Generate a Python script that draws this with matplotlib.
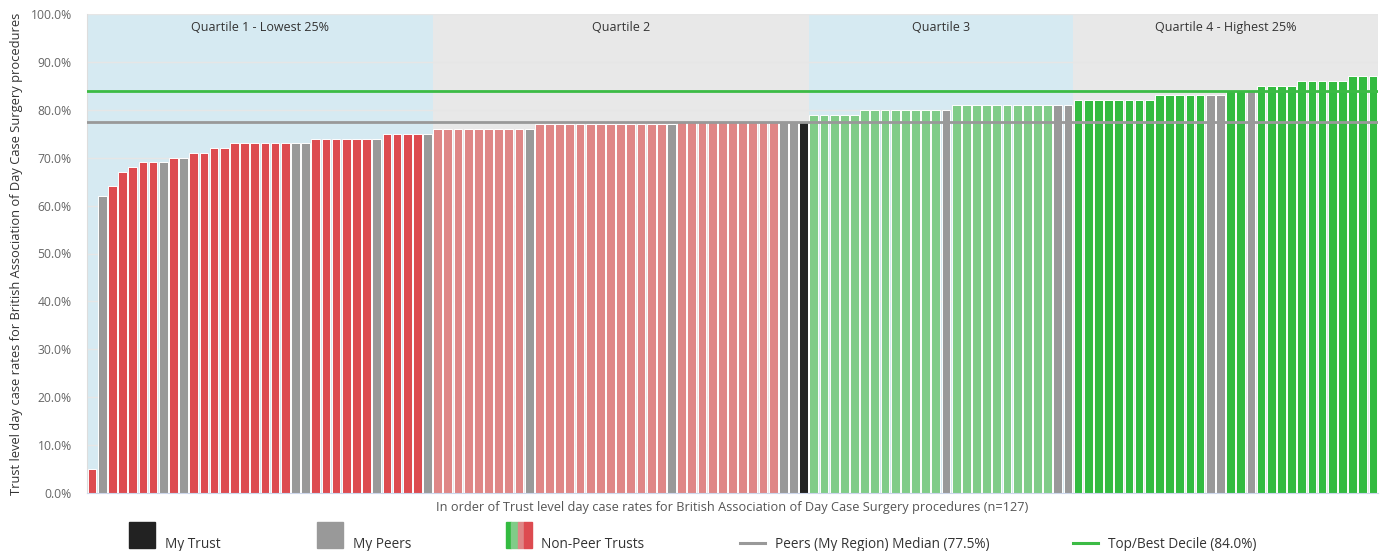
import matplotlib
matplotlib.use('Agg')
import matplotlib.pyplot as plt
from matplotlib.patches import Rectangle
from matplotlib.lines import Line2D
import numpy as np

plt.rcParams['font.family'] = ['Open Sans', 'DejaVu Sans']

# ---------------- data ----------------
values = (
    [5, 62, 64, 67, 68, 69, 69, 69, 70, 70, 71, 71, 72, 72,
     73, 73, 73, 73, 73, 73, 73, 73,
     74, 74, 74, 74, 74, 74, 74,
     75, 75, 75, 75, 75]
    + [76] * 10 + [77] * 14 + [77.5] * 13
    + [79] * 5 + [80] * 9 + [81] * 12
    + [82] * 8 + [83] * 7 + [84] * 3 + [85] * 4 + [86] * 5 + [87] * 3
)
# N = non-peer trust, P = my peers, T = my trust
kinds = (
    list("NPNNNNNPNPNNNNNNNNNNPPNNNNNNPNNNNP")
    + list("NNNNNNNNNP") + list("NNNNNNNNNNNNNP") + list("NNNNNNNNNNPPT")
    + list("NNNNN") + list("NNNNNNNNP") + list("NNNNNNNNNNPP")
    + list("NNNNNNNN") + list("NNNNNPP") + list("NNP") + list("NNNN")
    + list("NNNNN") + list("NNN")
)
quartile_sizes = [34, 37, 26, 30]
quartile_labels = ["Quartile 1 - Lowest 25%", "Quartile 2", "Quartile 3",
                   "Quartile 4 - Highest 25%"]
median_value = 77.5
decile_value = 84.0
y_ticks = list(range(0, 101, 10))
x_label = ("In order of Trust level day case rates for British Association of "
           "Day Case Surgery procedures (n=127)")
y_label = ("Trust level day case rates for British Association of Day Case "
           "Surgery procedures")
legend_labels = ["My Trust", "My Peers", "Non-Peer Trusts",
                 "Peers (My Region) Median (77.5%)", "Top/Best Decile (84.0%)"]

# ---------------- styles ----------------
quartile_colors = ['#DD4B50', '#DF8686', '#80CC88', '#33BB40']
band_colors = ['#D6EAF2', '#E8E8E8', '#D6EAF2', '#E8E8E8']
peer_color = '#999999'
trust_color = '#222222'
median_color = '#999999'
decile_color = '#3CBB45'

W, H = 1385, 551
fig = plt.figure(figsize=(W / 100, H / 100), dpi=100)
L, R, T, B = 87, 1378, 14, 493
ax = fig.add_axes([L / W, 1 - B / H, (R - L) / W, (B - T) / H])

n = len(values)
x = np.arange(n)
quart_idx = np.repeat(np.arange(4), quartile_sizes)
colors = []
for k, q in zip(kinds, quart_idx):
    if k == 'T':
        colors.append(trust_color)
    elif k == 'P':
        colors.append(peer_color)
    else:
        colors.append(quartile_colors[q])

# quartile bands
start = -0.5
for size, lab, bc in zip(quartile_sizes, quartile_labels, band_colors):
    ax.axvspan(start, start + size, color=bc, zorder=0, lw=0)
    ax.text(start + size / 2, 97.2, lab, ha='center', va='center',
            fontsize=9, color='#333333', zorder=4)
    start += size

ax.bar(x, values, width=0.86, color=colors, edgecolor='white',
       linewidth=0.7, zorder=2)

ax.axhline(median_value, color=median_color, lw=2, zorder=3)
ax.axhline(decile_value, color=decile_color, lw=2, zorder=3)

ax.set_xlim(-0.5, n - 0.5)
ax.set_ylim(0, 100)
ax.set_yticks(y_ticks)
ax.set_yticklabels([f"{v:.1f}%" for v in y_ticks], fontsize=8.7, color='#666666')
ax.set_xticks([])
ax.tick_params(axis='y', length=0, pad=11)
ax.yaxis.grid(True, color='#E6E6E6', lw=1)
ax.set_axisbelow(True)
for s in ['top', 'right']:
    ax.spines[s].set_visible(False)
ax.spines['left'].set_color('#DDDDDD')
ax.spines['bottom'].set_color('#CCD6EB')

fig.text((L + R) / 2 / W, 1 - 507 / H, x_label, ha='center', va='center',
         fontsize=9.2, color='#555555')
fig.text(17 / W, 1 - (T + B) / 2 / H, y_label, ha='center', va='center',
         rotation=90, fontsize=9.3, color='#333333')

# ---------------- legend (overlay) ----------------
lax = fig.add_axes([0, 0, 1, 1])
lax.set_xlim(0, W)
lax.set_ylim(H, 0)
lax.axis('off')

sq_top, sq_h, sq_w = 522, 26, 26
lax.add_patch(Rectangle((129, sq_top), sq_w, sq_h, color=trust_color))
lax.add_patch(Rectangle((317, sq_top), sq_w, sq_h, color=peer_color))
stripe_cols = [quartile_colors[3], quartile_colors[2], quartile_colors[1],
               quartile_colors[0]]
stripe_w = [5, 7, 6, 8]
sx = 506
for c, w in zip(stripe_cols, stripe_w):
    lax.add_patch(Rectangle((sx, sq_top), w, sq_h, color=c))
    sx += w
lax.add_line(Line2D([740, 765], [543, 543], color=median_color, lw=2.2))
lax.add_line(Line2D([1073, 1098], [543, 543], color=decile_color, lw=2.2))

for xt, lab in zip([165, 353, 541, 775, 1108], legend_labels):
    lax.text(xt, 544, lab, ha='left', va='center', fontsize=9.8, color='#333333')

fig.savefig('out.png', dpi=100)
